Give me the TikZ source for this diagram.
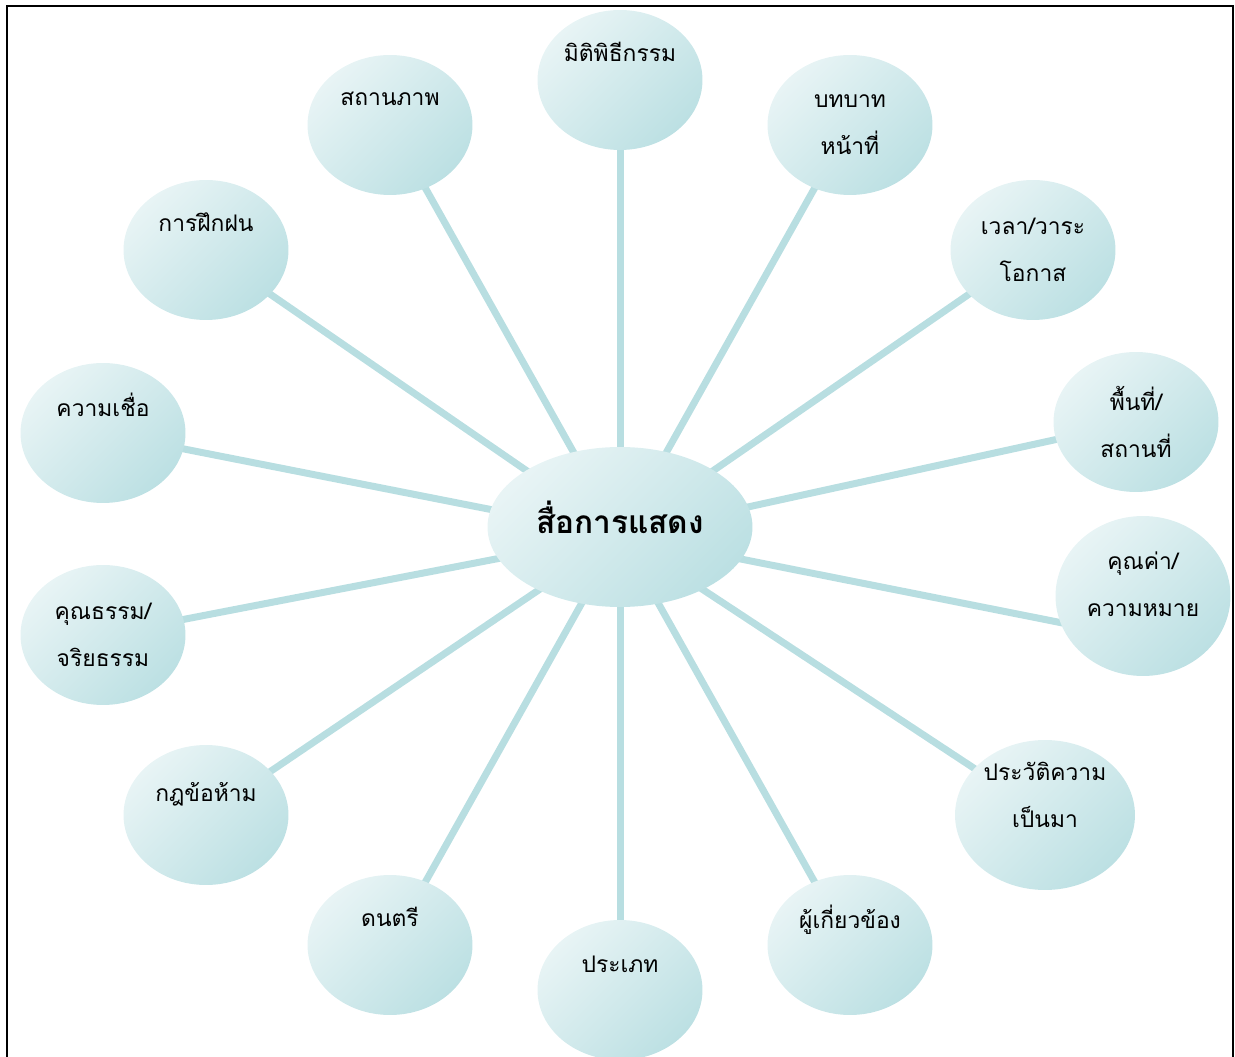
\documentclass[tikz,border=0pt]{standalone}
\usepackage{fontspec}
\newfontfamily\thaifont[Script=Thai]{Loma}
\usetikzlibrary{shapes.geometric,backgrounds}
\definecolor{spokecol}{RGB}{184,222,225}
\definecolor{balllight}{RGB}{232,244,245}
\definecolor{balldark}{RGB}{188,224,227}
\tikzset{
  ball/.style={ellipse, inner sep=0pt, align=center,
    minimum width=3.3cm, minimum height=2.8cm,
    top color=balllight, bottom color=balldark, shading angle=45,
    font=\thaifont\fontsize{13}{26.7}\selectfont},
  spoke/.style={draw=spokecol, line width=0.14cm}
}

\begin{document}
\begin{tikzpicture}[x=0.02cm, y=-0.02cm]
    \useasboundingbox (0,0) rectangle (1235,1057);
    \draw[line width=0.04cm] (7,1057) -- (7,6) -- (1233,6) -- (1233,1057);
    \node[ball, minimum width=5.3cm, minimum height=3.2cm,
          font=\thaifont\bfseries\fontsize{18}{24}\selectfont] (hub) at (620,527) {สื่อการแสดง\\[-13pt]~};
    \coordinate (core) at (620,535);
    \node[ball] (rite)   at (620,80)   {มิติพิธีกรรม\\[5pt]~};
    \node[ball] (role)   at (850,125)  {บทบาท\\หน้าที่};
    \node[ball] (time)   at (1033,250) {เวลา/วาระ\\โอกาส};
    \node[ball] (place)  at (1136,422) {พื้นที่/\\สถานที่};
    \node[ball, minimum width=3.5cm, minimum height=3.2cm] (value) at (1143,596) {คุณค่า/\\ความหมาย\\[-13pt]~};
    \node[ball, minimum width=3.6cm, minimum height=3cm] (hist) at (1045,815) {ประวัติความ\\เป็นมา\\[-4pt]~};
    \node[ball] (people) at (850,945)  {ผู้เกี่ยวข้อง\\[5pt]~};
    \node[ball] (kind)   at (620,990)  {ประเภท\\[3pt]~};
    \node[ball] (music)  at (390,945)  {ดนตรี\\[5pt]~};
    \node[ball] (taboo)  at (206,815)  {กฎข้อห้าม\\~};
    \node[ball] (moral)  at (103,635)  {คุณธรรม/\\จริยธรรม};
    \node[ball] (belief) at (103,433)  {ความเชื่อ\\[5pt]~};
    \node[ball] (train)  at (206,250)  {การฝึกฝน\\[5pt]~};
    \node[ball] (status) at (390,125)  {สถานภาพ\\[3pt]~};
    \begin{scope}[on background layer]
      \foreach \n in {rite,role,time,place,hist,people,kind,music,taboo,moral,belief,train,status}
        \draw[spoke] (core) -- (\n.center);
      \draw[spoke] (core) -- ([yshift=-0.86cm]value.center);
    \end{scope}
\end{tikzpicture}
\end{document}
